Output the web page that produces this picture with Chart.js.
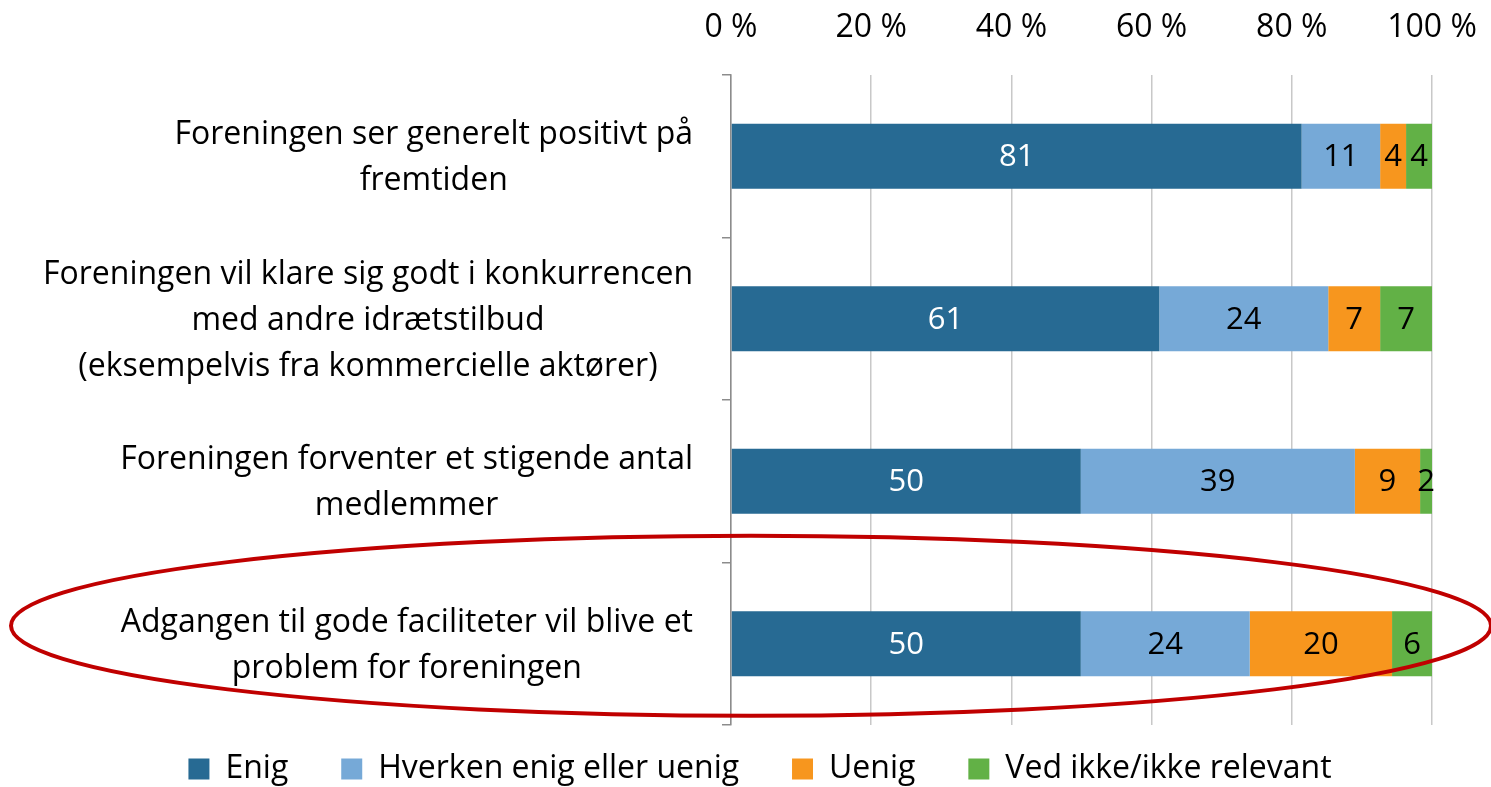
<!DOCTYPE html>
<html>
<head>
<meta charset="utf-8">
<script src="https://cdn.jsdelivr.net/npm/chart.js@4.4.1/dist/chart.umd.min.js"></script>
<style>
  html, body { margin: 0; padding: 0; background: #fff; }
  #wrap { width: 1491px; height: 787px; }
</style>
</head>
<body>
<div id="wrap"><canvas id="chart"></canvas></div>
<script>
const categories = [
  ["Foreningen ser generelt positivt på", "fremtiden"],
  ["Foreningen vil klare sig godt i konkurrencen", "med andre idrætstilbud", "(eksempelvis fra kommercielle aktører)"],
  ["Foreningen forventer et stigende antal", "medlemmer"],
  ["Adgangen til gode faciliteter vil blive et", "problem for foreningen"]
];
const seriesNames = ["Enig", "Hverken enig eller uenig", "Uenig", "Ved ikke/ikke relevant"];
const enig = [81.4, 61.1, 49.9, 49.9];
const hverken = [11.2, 24.1, 39.1, 24.1];
const uenig = [3.7, 7.4, 9.3, 20.3];
const vedIkke = [3.7, 7.4, 1.7, 5.7];
const xTicks = [0, 20, 40, 60, 80, 100];

const colors = ["#276a93", "#76a9d7", "#f7961e", "#62b146"];
const labelColors = ["#ffffff", "#000000", "#000000", "#000000"];
const FONT = "Open Sans";
const SIZE = 32;
const PAD_LEFT = 88;

Chart.defaults.font.family = FONT;

// data labels, category labels and the red ring
const overlay = {
  id: "overlay",
  afterDatasetsDraw(chart) {
    const ctx = chart.ctx;
    ctx.save();
    ctx.font = "31px " + FONT;
    ctx.textAlign = "center";
    ctx.textBaseline = "middle";
    chart.data.datasets.forEach((ds, i) => {
      const meta = chart.getDatasetMeta(i);
      ctx.fillStyle = labelColors[i];
      meta.data.forEach((bar, j) => {
        const x = (bar.x + bar.base) / 2;
        ctx.fillText(String(Math.round(ds.data[j])), x, bar.y + 1);
      });
    });
    ctx.restore();
  },
  afterDraw(chart) {
    const ctx = chart.ctx;
    const y = chart.scales.y;
    ctx.save();
    ctx.font = SIZE + "px " + FONT;
    ctx.fillStyle = "#000";
    ctx.textAlign = "center";
    ctx.textBaseline = "middle";
    const right = y.right - 38;
    const lh = 46;
    categories.forEach((lines, j) => {
      const cy = y.getPixelForValue(j) + 2;
      const w = Math.max(...lines.map(l => ctx.measureText(l).width));
      const cx = right - w / 2;
      lines.forEach((l, k) => {
        ctx.fillText(l, cx, cy + (k - (lines.length - 1) / 2) * lh);
      });
    });
    // ring round the last row
    const cy = y.getPixelForValue(3) - 18;
    ctx.beginPath();
    ctx.ellipse(751, cy, 740, 90, 0, 0, Math.PI * 2);
    ctx.strokeStyle = "#c00000";
    ctx.lineWidth = 4;
    ctx.stroke();
    ctx.restore();
  }
};

const data = {
  labels: categories,
  datasets: [enig, hverken, uenig, vedIkke].map((vals, i) => ({
    label: seriesNames[i],
    data: vals,
    backgroundColor: colors[i],
    borderWidth: 0,
    barPercentage: 0.8,
    categoryPercentage: 0.5
  }))
};

new Chart(document.getElementById("chart"), {
  type: "bar",
  data: data,
  options: {
    indexAxis: "y",
    responsive: true,
    maintainAspectRatio: false,
    animation: false,
    layout: { padding: { top: 0, right: 59, bottom: -8, left: PAD_LEFT } },
    scales: {
      x: {
        position: "top",
        stacked: true,
        min: 0,
        max: 100,
        afterBuildTicks: (s) => { s.ticks = xTicks.map(v => ({ value: v })); },
        ticks: {
          callback: (v) => v + " %",
          color: "#000",
          font: { size: SIZE },
          padding: 28,
          maxRotation: 0
        },
        grid: { color: "#c8c8c8", lineWidth: 1.5, drawTicks: false },
        border: { display: false },
        afterFit: (s) => { s.height = 75; s.paddingLeft = 0; s.paddingRight = 0; }
      },
      y: {
        stacked: true,
        ticks: { display: false },
        grid: { offset: true, drawOnChartArea: false, tickLength: 9, color: "#8c8c8c", lineWidth: 1.5 },
        border: { display: true, color: "#8c8c8c", width: 1.5 },
        afterFit: (s) => { s.width = 731 - PAD_LEFT; }
      }
    },
    plugins: {
      tooltip: { enabled: false },
      legend: {
        position: "bottom",
        labels: {
          color: "#000",
          font: { size: SIZE },
          boxWidth: 21,
          boxHeight: 21,
          padding: 28,
          generateLabels: (chart) => {
            const items = Chart.defaults.plugins.legend.labels.generateLabels(chart);
            return items.map((it, i) => {
              it.text = i < items.length - 1 ? it.text + "   " : it.text;
              it.lineWidth = 0;
              return it;
            });
          }
        }
      }
    }
  },
  plugins: [overlay]
});
</script>
</body>
</html>
